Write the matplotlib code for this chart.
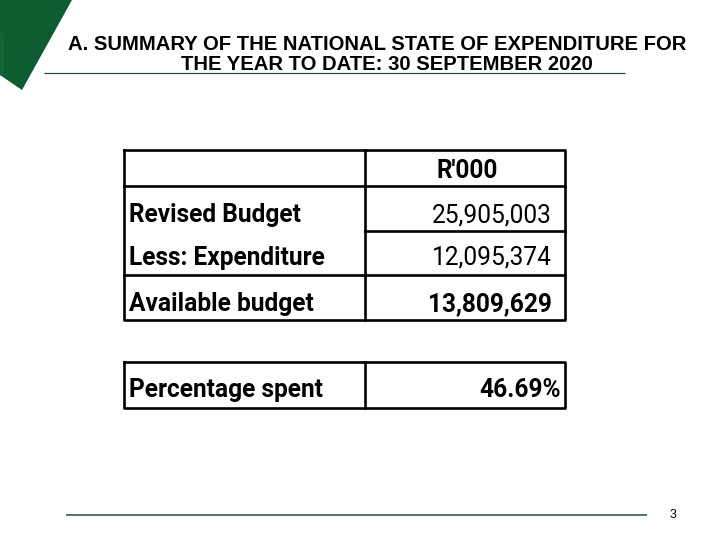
import matplotlib
matplotlib.use("Agg")
import matplotlib.pyplot as plt
from matplotlib import font_manager as fm
from matplotlib.patches import Polygon

# ---- data ----
title_lines = ["A. SUMMARY OF THE NATIONAL STATE OF EXPENDITURE FOR",
               "THE YEAR TO DATE: 30 SEPTEMBER 2020"]
header = "R'000"
row_labels = ["Revised Budget", "Less: Expenditure", "Available budget"]
row_values = [25905003, 12095374, 13809629]
row_bold = [False, False, True]
pct_label = "Percentage spent"
pct_value = 46.69
page_number = "3"

# ---- fonts ----
names = {f.name for f in fm.fontManager.ttflist}
if "Liberation Sans Narrow" in names:
    tfam = "Liberation Sans Narrow"
elif "Roboto" in names:
    tfam = "Roboto"
else:
    tfam = "DejaVu Sans"
title_fam = "Liberation Sans"

fig = plt.figure(figsize=(7.2, 5.4), dpi=100)
ax = fig.add_axes([0, 0, 1, 1])
ax.set_xlim(0, 720)
ax.set_ylim(540, 0)
ax.axis("off")
renderer = fig.canvas.get_renderer()


def fit_size(s, target_w, base=20, **kw):
    t = ax.text(0, 0, s, fontsize=base, **kw)
    w = t.get_window_extent(renderer).width
    t.remove()
    return base * target_w / w

# green corner shape
green = "#0d5c32"
ax.add_patch(Polygon([[0, 0], [72, 0], [22, 90], [0, 75]], closed=True,
                     facecolor=green, edgecolor="none"))
ax.add_patch(Polygon([[0, 33], [4, 33], [4, 77], [0, 75]], closed=True,
                     facecolor="#156338", edgecolor="none"))

# title
tsize = fit_size(title_lines[0], 617, family=title_fam, fontweight="bold")
ax.text(377.5, 50, title_lines[0], family=title_fam, fontweight="bold",
        fontsize=tsize, ha="center", va="baseline", color="black")
ax.text(386.5, 70, title_lines[1], family=title_fam, fontweight="bold",
        fontsize=tsize, ha="center", va="baseline", color="black")
ax.plot([44, 625], [73.3, 73.3], color="#2b4a3c", lw=0.9, solid_capstyle="butt")

# footer
ax.plot([66, 647], [514.5, 514.5], color="#2b4a3c", lw=1.1, solid_capstyle="butt")
ax.text(673, 514.5, page_number, family=title_fam, fontsize=9,
        ha="center", va="center", color="black")

# table
kw = dict(family=tfam)
size = fit_size(row_labels[0], 172, fontweight="bold", **kw)
lw = 1.9
lc = "black"
L, M, R = 123.5, 365, 565
top, hb, mid, avt, bot = 150, 186, 230.6, 274.5, 319.5
# outer box
ax.plot([L, R, R, L, L], [top, top, bot, bot, top], color=lc, lw=lw)
ax.plot([M, M], [top, bot], color=lc, lw=lw)
ax.plot([L, R], [hb, hb], color=lc, lw=lw)
ax.plot([M, R], [mid, mid], color=lc, lw=lw)
ax.plot([L, R], [avt, avt], color=lc, lw=lw)

ax.text(467, 177.6, header, fontsize=size, fontweight="bold",
        ha="center", va="baseline", **kw)
baselines = [222, 264.8, 311]
for lab, val, b, y in zip(row_labels, row_values, row_bold, baselines):
    ax.text(129, y, lab, fontsize=size, fontweight="bold", ha="left",
            va="baseline", **kw)
    ax.text(552, y, f"{val:,}", fontsize=size,
            fontweight="bold" if b else "normal", ha="right", va="baseline", **kw)

# percentage table
ptop, pbot = 362, 407.5
ax.plot([L, R, R, L, L], [ptop, ptop, pbot, pbot, ptop], color=lc, lw=lw)
ax.plot([M, M], [ptop, pbot], color=lc, lw=lw)
ax.text(129, 396.7, pct_label, fontsize=size, fontweight="bold", ha="left",
        va="baseline", **kw)
ax.text(561, 396.7, f"{pct_value:.2f}%", fontsize=size, fontweight="bold",
        ha="right", va="baseline", **kw)

fig.savefig("out.png", dpi=100)
